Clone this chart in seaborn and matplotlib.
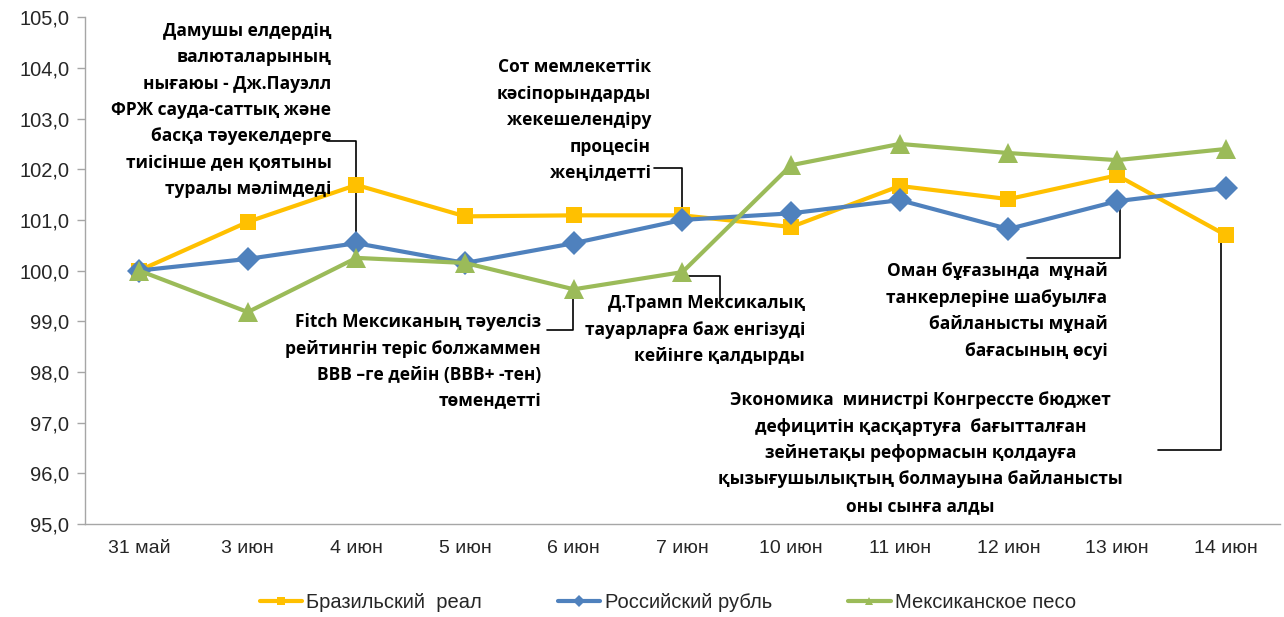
import matplotlib
matplotlib.use("Agg")
import matplotlib.pyplot as plt
import pandas as pd
import seaborn as sns

#################### DATA ####################
dates = ["31 май", "3 июн", "4 июн", "5 июн", "6 июн", "7 июн",
         "10 июн", "11 июн", "12 июн", "13 июн", "14 июн"]
brazil = [100.0, 100.96, 101.69, 101.07, 101.09, 101.09, 100.86, 101.67, 101.41, 101.88, 100.70]
russia = [100.0, 100.23, 100.54, 100.15, 100.54, 101.00, 101.13, 101.39, 100.82, 101.37, 101.63]
mexico = [100.0, 99.18, 100.25, 100.15, 99.63, 99.97, 102.08, 102.50, 102.32, 102.18, 102.40]
series_names = ["Бразильский  реал", "Российский рубль", "Мексиканское песо"]

#################### CONFIG ####################
ORANGE = "#FFC000"
BLUE = "#4F81BD"
GREEN = "#9BBB59"
AXIS_GREY = "#A6A6A6"
MARKER_SIZES = [11, 12.5, 15]

sns.set_style("white")
plt.rcParams["font.family"] = ["Liberation Sans", "DejaVu Sans"]
NOTE_FONT = ["Open Sans", "Noto Sans", "DejaVu Sans"]

df = pd.concat([
    pd.DataFrame({"idx": range(len(dates)), "value": vals, "series": name})
    for name, vals in zip(series_names, [brazil, russia, mexico])
])

fig = plt.figure(figsize=(12.84, 6.17), dpi=100)
ax = fig.add_axes([0.066, 0.151, 0.931, 0.821])

sns.lineplot(
    data=df, x="idx", y="value", hue="series", style="series",
    palette=[ORANGE, BLUE, GREEN], markers=["s", "D", "^"], dashes=False,
    linewidth=3, markeredgewidth=0, ax=ax, legend=True,
)
for line, ms in zip(ax.lines[:3], MARKER_SIZES):
    line.set_markersize(ms)

#################### axes ####################
ax.set_xlim(-0.5, len(dates) - 0.5)
ax.set_ylim(95, 105)
ax.set_yticks(range(95, 106))
ax.set_yticklabels([f"{v},0" for v in range(95, 106)], fontsize=14.5)
ax.set_xticks(range(len(dates)))
ax.set_xticklabels(dates, fontsize=14)
ax.set_xticks([i + 0.5 for i in range(len(dates) - 1)], minor=True)
ax.tick_params(axis="x", which="major", length=0, pad=12)
ax.tick_params(axis="x", which="minor", length=8, color=AXIS_GREY, width=1)
ax.tick_params(axis="y", length=6, color=AXIS_GREY, width=1, pad=5, left=True)
ax.set_xlabel("")
ax.set_ylabel("")
for side in ["top", "right"]:
    ax.spines[side].set_visible(False)
for side in ["left", "bottom"]:
    ax.spines[side].set_color(AXIS_GREY)
    ax.spines[side].set_linewidth(1)

#################### annotations ####################
notes = [
    ("Дамушы елдердің\nвалюталарының\nнығаюы - Дж.Пауэлл\nФРЖ сауда-саттық және\nбасқа тәуекелдерге\nтиісінше ден қоятыны\nтуралы мәлімдеді",
     1.77, 103.17, "right"),
    ("Сот мемлекеттік\nкәсіпорындарды\nжекешелендіру\nпроцесін\nжеңілдетті",
     4.71, 102.97, "right"),
    ("Fitch Мексиканың тәуелсіз\nрейтингін теріс болжаммен\nBBB –ге дейін (BBB+ -тен)\nтөмендетті",
     3.70, 98.20, "right"),
    ("Д.Трамп Мексикалық\nтауарларға баж енгізуді\nкейінге қалдырды",
     6.13, 98.83, "right"),
    ("Оман бұғазында  мұнай\nтанкерлеріне шабуылға\nбайланысты мұнай\nбағасының өсуі",
     8.91, 99.20, "right"),
    ("Экономика  министрі Конгрессте бюджет\nдефицитін қасқартуға  бағытталған\nзейнетақы реформасын қолдауға\nқызығушылықтың болмауына байланысты\nоны сынға алды",
     7.19, 96.40, "center"),
]
for text, x, y, ha in notes:
    ax.text(x, y, text, ha=ha, va="center", multialignment=ha,
            fontsize=12.5, fontweight="bold", family=NOTE_FONT,
            linespacing=1.6, color="black")

connectors = [
    ([1.73, 2.0, 2.0], [102.55, 102.55, mexico[2]]),
    ([4.74, 5.0, 5.0], [102.02, 102.02, brazil[5] + 0.1]),
    ([3.75, 3.99, 3.99], [98.83, 98.83, mexico[4] - 0.2]),
    ([5.04, 5.35, 5.35], [mexico[5] - 0.08, mexico[5] - 0.08, 99.42]),
    ([8.17, 9.03, 9.03], [100.25, 100.25, russia[9] - 0.08]),
    ([9.38, 9.96, 9.96], [96.46, 96.46, brazil[10] - 0.1]),
]
for xs, ys in connectors:
    ax.plot(xs, ys, color="black", linewidth=1.2, zorder=1)

#################### legend ####################
handles, labels = ax.get_legend_handles_labels()
ax.legend_.remove()
for h in handles:
    h.set_markersize(6)
    h.set_linewidth(3)
fig.legend(handles, labels, loc="center", bbox_to_anchor=(0.52, 0.024), ncol=3,
           frameon=False, handlelength=2.1, columnspacing=3.8,
           handletextpad=0.2,
           prop={"family": ["Liberation Sans Narrow", "Liberation Sans"], "size": 14.5})

plt.savefig("out.png", dpi=100, facecolor="white")
